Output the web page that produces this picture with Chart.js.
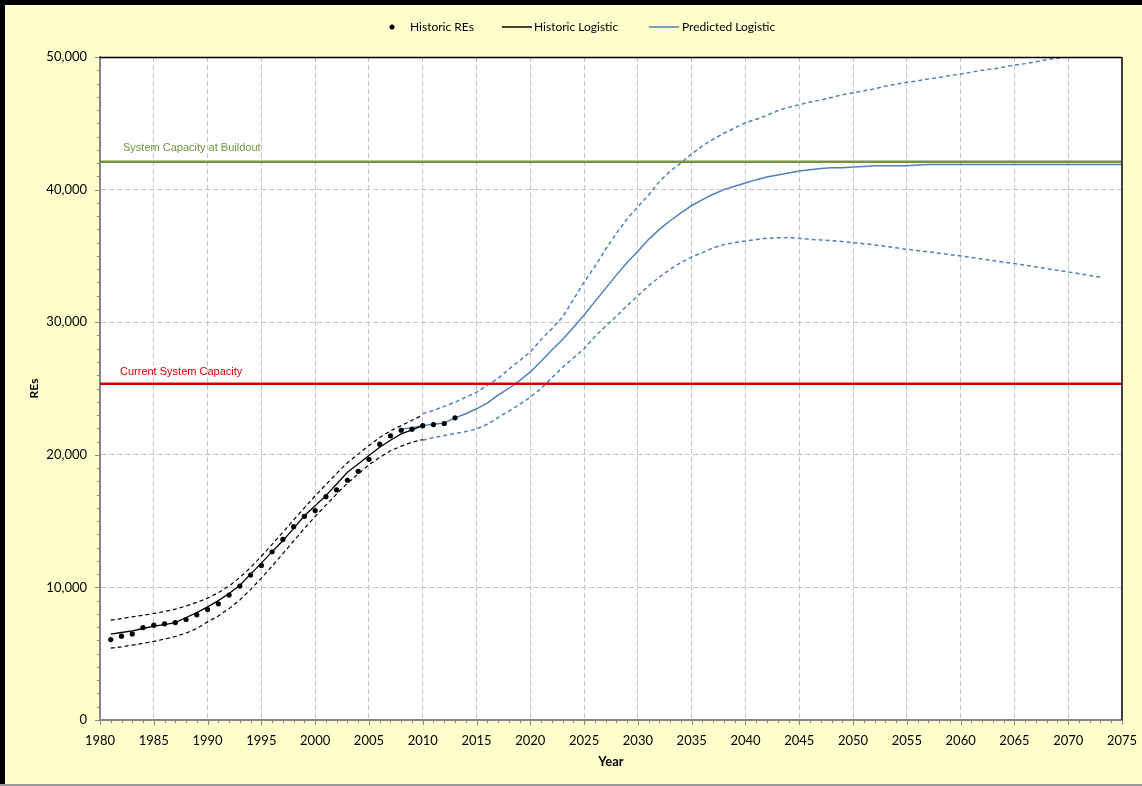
<!DOCTYPE html>
<html>
<head>
<meta charset="utf-8">
<script src="https://cdn.jsdelivr.net/npm/chart.js@4.4.1/dist/chart.umd.min.js"></script>
<style>
html,body{margin:0;padding:0;background:#FFFFCC;overflow:hidden;}
canvas{display:block;}
</style>
</head>
<body>
<canvas id="c" width="1142" height="786"></canvas>
<script>
function range(a, b) { const r = []; for (let i = a; i <= b; i++) r.push(i); return r; }

// ---- Data ----
const histYears = range(1981, 2013);
const histREs = [6065, 6320, 6495, 6970, 7150, 7250, 7350, 7580, 7930, 8330,
  8760, 9420, 10100, 10930, 11660, 12690, 13620, 14580, 15360, 15790,
  16840, 17350, 18080, 18760, 19660, 20800, 21430, 21850, 21930, 22200,
  22280, 22360, 22790];

const histLogYears = range(1981, 2010);
const histLogistic = [6470, 6600, 6720, 6900, 7075, 7200, 7350, 7730, 8100, 8530,
  9000, 9540, 10170, 11000, 11830, 12700, 13520, 14450, 15400, 16160,
  16920, 17800, 18680, 19300, 19940, 20570, 21100, 21580, 21880, 22200];
const histUpper = [7530, 7650, 7780, 7900, 8030, 8180, 8360, 8600, 8870, 9190,
  9600, 10100, 10750, 11500, 12350, 13250, 14150, 15100, 16000, 16900,
  17750, 18600, 19400, 20050, 20700, 21300, 21800, 22200, 22600, 23000];
const histLower = [5415, 5520, 5650, 5780, 5930, 6100, 6300, 6550, 6900, 7400,
  7850, 8400, 9050, 9850, 10700, 11600, 12550, 13500, 14450, 15350,
  16200, 17050, 17850, 18550, 19250, 19800, 20300, 20650, 20950, 21150];

const predYears = range(2008, 2075);
const predLogistic = [21930, 22050, 22200, 22300, 22400, 22785, 23100, 23470, 23900, 24500,
  25000, 25600, 26250, 27050, 27900, 28700, 29600, 30550, 31550, 32550,
  33550, 34500, 35350, 36250, 37000, 37650, 38250, 38800, 39250, 39650,
  40000, 40250, 40500, 40750, 40950, 41100, 41250, 41400, 41500, 41600,
  41650, 41650, 41700, 41750, 41800, 41800, 41800, 41800, 41850, 41900,
  41900, 41900, 41900, 41900, 41900, 41900, 41900, 41900, 41900, 41900,
  41900, 41900, 41900, 41900, 41900, 41900, 41900, 41900];

const predUpperYears = range(2010, 2070);
const predUpper = [23090, 23350, 23650, 23970, 24330, 24720, 25250, 25750, 26450, 27100,
  27750, 28700, 29500, 30400, 31700, 33030, 34200, 35500, 36700, 37800,
  38700, 39600, 40600, 41400, 42000, 42700, 43300, 43800, 44250, 44650,
  45040, 45300, 45600, 45950, 46200, 46400, 46600, 46750, 46950, 47150,
  47300, 47450, 47600, 47800, 47950, 48090, 48200, 48350, 48450, 48600,
  48720, 48850, 49000, 49100, 49250, 49400, 49500, 49650, 49800, 49900,
  50000];

const predLowerYears = range(2010, 2073);
const predLower = [21100, 21300, 21450, 21600, 21750, 21950, 22300, 22800, 23300, 23800,
  24350, 25000, 25800, 26600, 27300, 28000, 28900, 29700, 30450, 31250,
  32000, 32750, 33400, 34000, 34500, 34920, 35250, 35600, 35850, 36000,
  36130, 36230, 36330, 36370, 36380, 36320, 36250, 36200, 36150, 36080,
  36000, 35920, 35830, 35720, 35610, 35500, 35400, 35300, 35200, 35100,
  35000, 34880, 34770, 34650, 34530, 34420, 34300, 34170, 34040, 33910,
  33790, 33660, 33530, 33400];

const capacityYears = [1980, 2075];
const buildoutCapacity = 42100;
const currentCapacity = 25350;

const xTickLabels = range(1980, 2075).filter(y => y % 5 === 0);
const yTickValues = [0, 10000, 20000, 30000, 40000, 50000];

// ---- Style ----
const BLUE = '#4F81BD';
const GREEN = '#77933C';
const RED = '#D40000';
const FONT = 'Lato, "Open Sans", sans-serif';

const zip = (xs, ys) => xs.map((x, i) => ({ x: x, y: ys[i] }));

const framePlugin = {
  id: 'frame',
  beforeDraw(chart) {
    const ctx = chart.ctx, a = chart.chartArea;
    ctx.save();
    ctx.fillStyle = '#FFFFCC';
    ctx.fillRect(0, 0, chart.width, chart.height);
    ctx.fillStyle = '#000';
    ctx.fillRect(0, 0, chart.width, 5);
    ctx.fillRect(0, 0, 5, chart.height);
    ctx.fillStyle = '#9a9a9a';
    ctx.fillRect(0, chart.height - 2, chart.width, 2);
    ctx.fillStyle = '#FFFFFF';
    ctx.fillRect(a.left, a.top, a.right - a.left, a.bottom - a.top);
    ctx.restore();
  },
  afterDraw(chart) {
    const ctx = chart.ctx, a = chart.chartArea;
    const xs = chart.scales.x, ys = chart.scales.y;
    ctx.save();
    // plot border top / right
    ctx.strokeStyle = '#000';
    ctx.lineWidth = 1.5;
    ctx.beginPath(); ctx.moveTo(a.left, a.top + 0.5); ctx.lineTo(a.right, a.top + 0.5); ctx.stroke();
    ctx.strokeStyle = '#404040';
    ctx.lineWidth = 2;
    ctx.beginPath(); ctx.moveTo(a.right, a.top); ctx.lineTo(a.right, a.bottom); ctx.stroke();
    // minor / major ticks
    ctx.strokeStyle = '#868686';
    ctx.lineWidth = 1;
    for (let yr = 1980; yr <= 2075; yr++) {
      const px = Math.round(xs.getPixelForValue(yr)) + 0.5;
      const len = yr % 5 === 0 ? 5 : 3;
      ctx.beginPath(); ctx.moveTo(px, a.bottom); ctx.lineTo(px, a.bottom + len); ctx.stroke();
    }
    for (let v = 0; v <= 50000; v += 1000) {
      const py = Math.round(ys.getPixelForValue(v)) + 0.5;
      const len = v % 10000 === 0 ? 5 : 3;
      ctx.beginPath(); ctx.moveTo(a.left - len, py); ctx.lineTo(a.left, py); ctx.stroke();
    }
    // reference line labels
    ctx.font = '11px "Liberation Sans", Arial, sans-serif';
    ctx.textBaseline = 'middle';
    ctx.textAlign = 'left';
    ctx.fillStyle = GREEN;
    ctx.fillText('System Capacity at Buildout', 123, ys.getPixelForValue(buildoutCapacity) - 14);
    ctx.fillStyle = RED;
    ctx.fillText('Current System Capacity', 120, ys.getPixelForValue(currentCapacity) - 12);
    // legend
    ctx.font = '12px ' + FONT;
    ctx.fillStyle = '#000';
    ctx.beginPath(); ctx.arc(392, 27, 2.5, 0, Math.PI * 2); ctx.fill();
    ctx.fillText('Historic REs', 410, 27);
    ctx.strokeStyle = '#000'; ctx.lineWidth = 1.5;
    ctx.beginPath(); ctx.moveTo(502, 27); ctx.lineTo(532, 27); ctx.stroke();
    ctx.fillText('Historic Logistic', 534, 27);
    ctx.strokeStyle = BLUE; ctx.lineWidth = 1.5;
    ctx.beginPath(); ctx.moveTo(649, 27); ctx.lineTo(679, 27); ctx.stroke();
    ctx.fillText('Predicted Logistic', 682, 27);
    ctx.restore();
  }
};

const lineDefaults = { pointRadius: 0, pointHoverRadius: 0, fill: false, tension: 0 };

new Chart(document.getElementById('c'), {
  type: 'line',
  data: {
    datasets: [
      { label: 'Historic REs', data: zip(histYears, histREs), showLine: false,
        pointRadius: 2.6, pointBackgroundColor: '#000', pointBorderWidth: 0, borderColor: '#000' },
      Object.assign({ label: 'System Capacity at Buildout', data: zip(capacityYears, [buildoutCapacity, buildoutCapacity]),
        borderColor: GREEN, borderWidth: 2.5 }, lineDefaults),
      Object.assign({ label: 'Current System Capacity', data: zip(capacityYears, [currentCapacity, currentCapacity]),
        borderColor: RED, borderWidth: 2.5 }, lineDefaults),
      Object.assign({ label: 'Historic Logistic', data: zip(histLogYears, histLogistic),
        borderColor: '#000', borderWidth: 1.3 }, lineDefaults),
      Object.assign({ label: 'Historic Upper', data: zip(histLogYears, histUpper),
        borderColor: '#000', borderWidth: 1.2, borderDash: [4, 3] }, lineDefaults),
      Object.assign({ label: 'Historic Lower', data: zip(histLogYears, histLower),
        borderColor: '#000', borderWidth: 1.2, borderDash: [4, 3] }, lineDefaults),
      Object.assign({ label: 'Predicted Logistic', data: zip(predYears, predLogistic),
        borderColor: BLUE, borderWidth: 1.5 }, lineDefaults),
      Object.assign({ label: 'Predicted Upper', data: zip(predUpperYears, predUpper),
        borderColor: BLUE, borderWidth: 1.5, borderDash: [4, 3] }, lineDefaults),
      Object.assign({ label: 'Predicted Lower', data: zip(predLowerYears, predLower),
        borderColor: BLUE, borderWidth: 1.5, borderDash: [4, 3] }, lineDefaults)
    ]
  },
  options: {
    responsive: false,
    animation: false,
    events: [],
    layout: { padding: { top: 57, right: 20, left: 0, bottom: 0 } },
    plugins: { legend: { display: false }, tooltip: { enabled: false } },
    scales: {
      x: {
        type: 'linear', min: 1980, max: 2075,
        afterBuildTicks(s) { s.ticks = xTickLabels.map(v => ({ value: v })); },
        afterFit(s) { s.height = 66; s.paddingLeft = 0; s.paddingRight = 0; },
        ticks: { autoSkip: false, maxRotation: 0, padding: 13, color: '#000',
          font: { family: FONT, size: 13 }, callback: v => String(v) },
        grid: { color: '#C4C4C4', lineWidth: 1, drawTicks: false },
        border: { color: '#868686', width: 2, dash: [5, 3] },
        title: { display: true, text: 'Year', color: '#000', padding: { top: 0, bottom: 16 },
          font: { family: FONT, size: 13, weight: 'bold' } }
      },
      y: {
        min: 0, max: 50000,
        afterBuildTicks(s) { s.ticks = yTickValues.map(v => ({ value: v })); },
        afterFit(s) { s.width = 100; s.paddingTop = 0; s.paddingBottom = 0; },
        ticks: { padding: 13, color: '#000', font: { family: FONT, size: 13 },
          callback: v => Number(v).toLocaleString('en-US') },
        grid: { color: '#C4C4C4', lineWidth: 1, drawTicks: false },
        border: { color: '#868686', width: 2, dash: [5, 3] },
        title: { display: true, text: 'REs', color: '#000', padding: { top: 27, bottom: 0 },
          font: { family: FONT, size: 12, weight: 'bold' } }
      }
    }
  },
  plugins: [framePlugin]
});
</script>
</body>
</html>
